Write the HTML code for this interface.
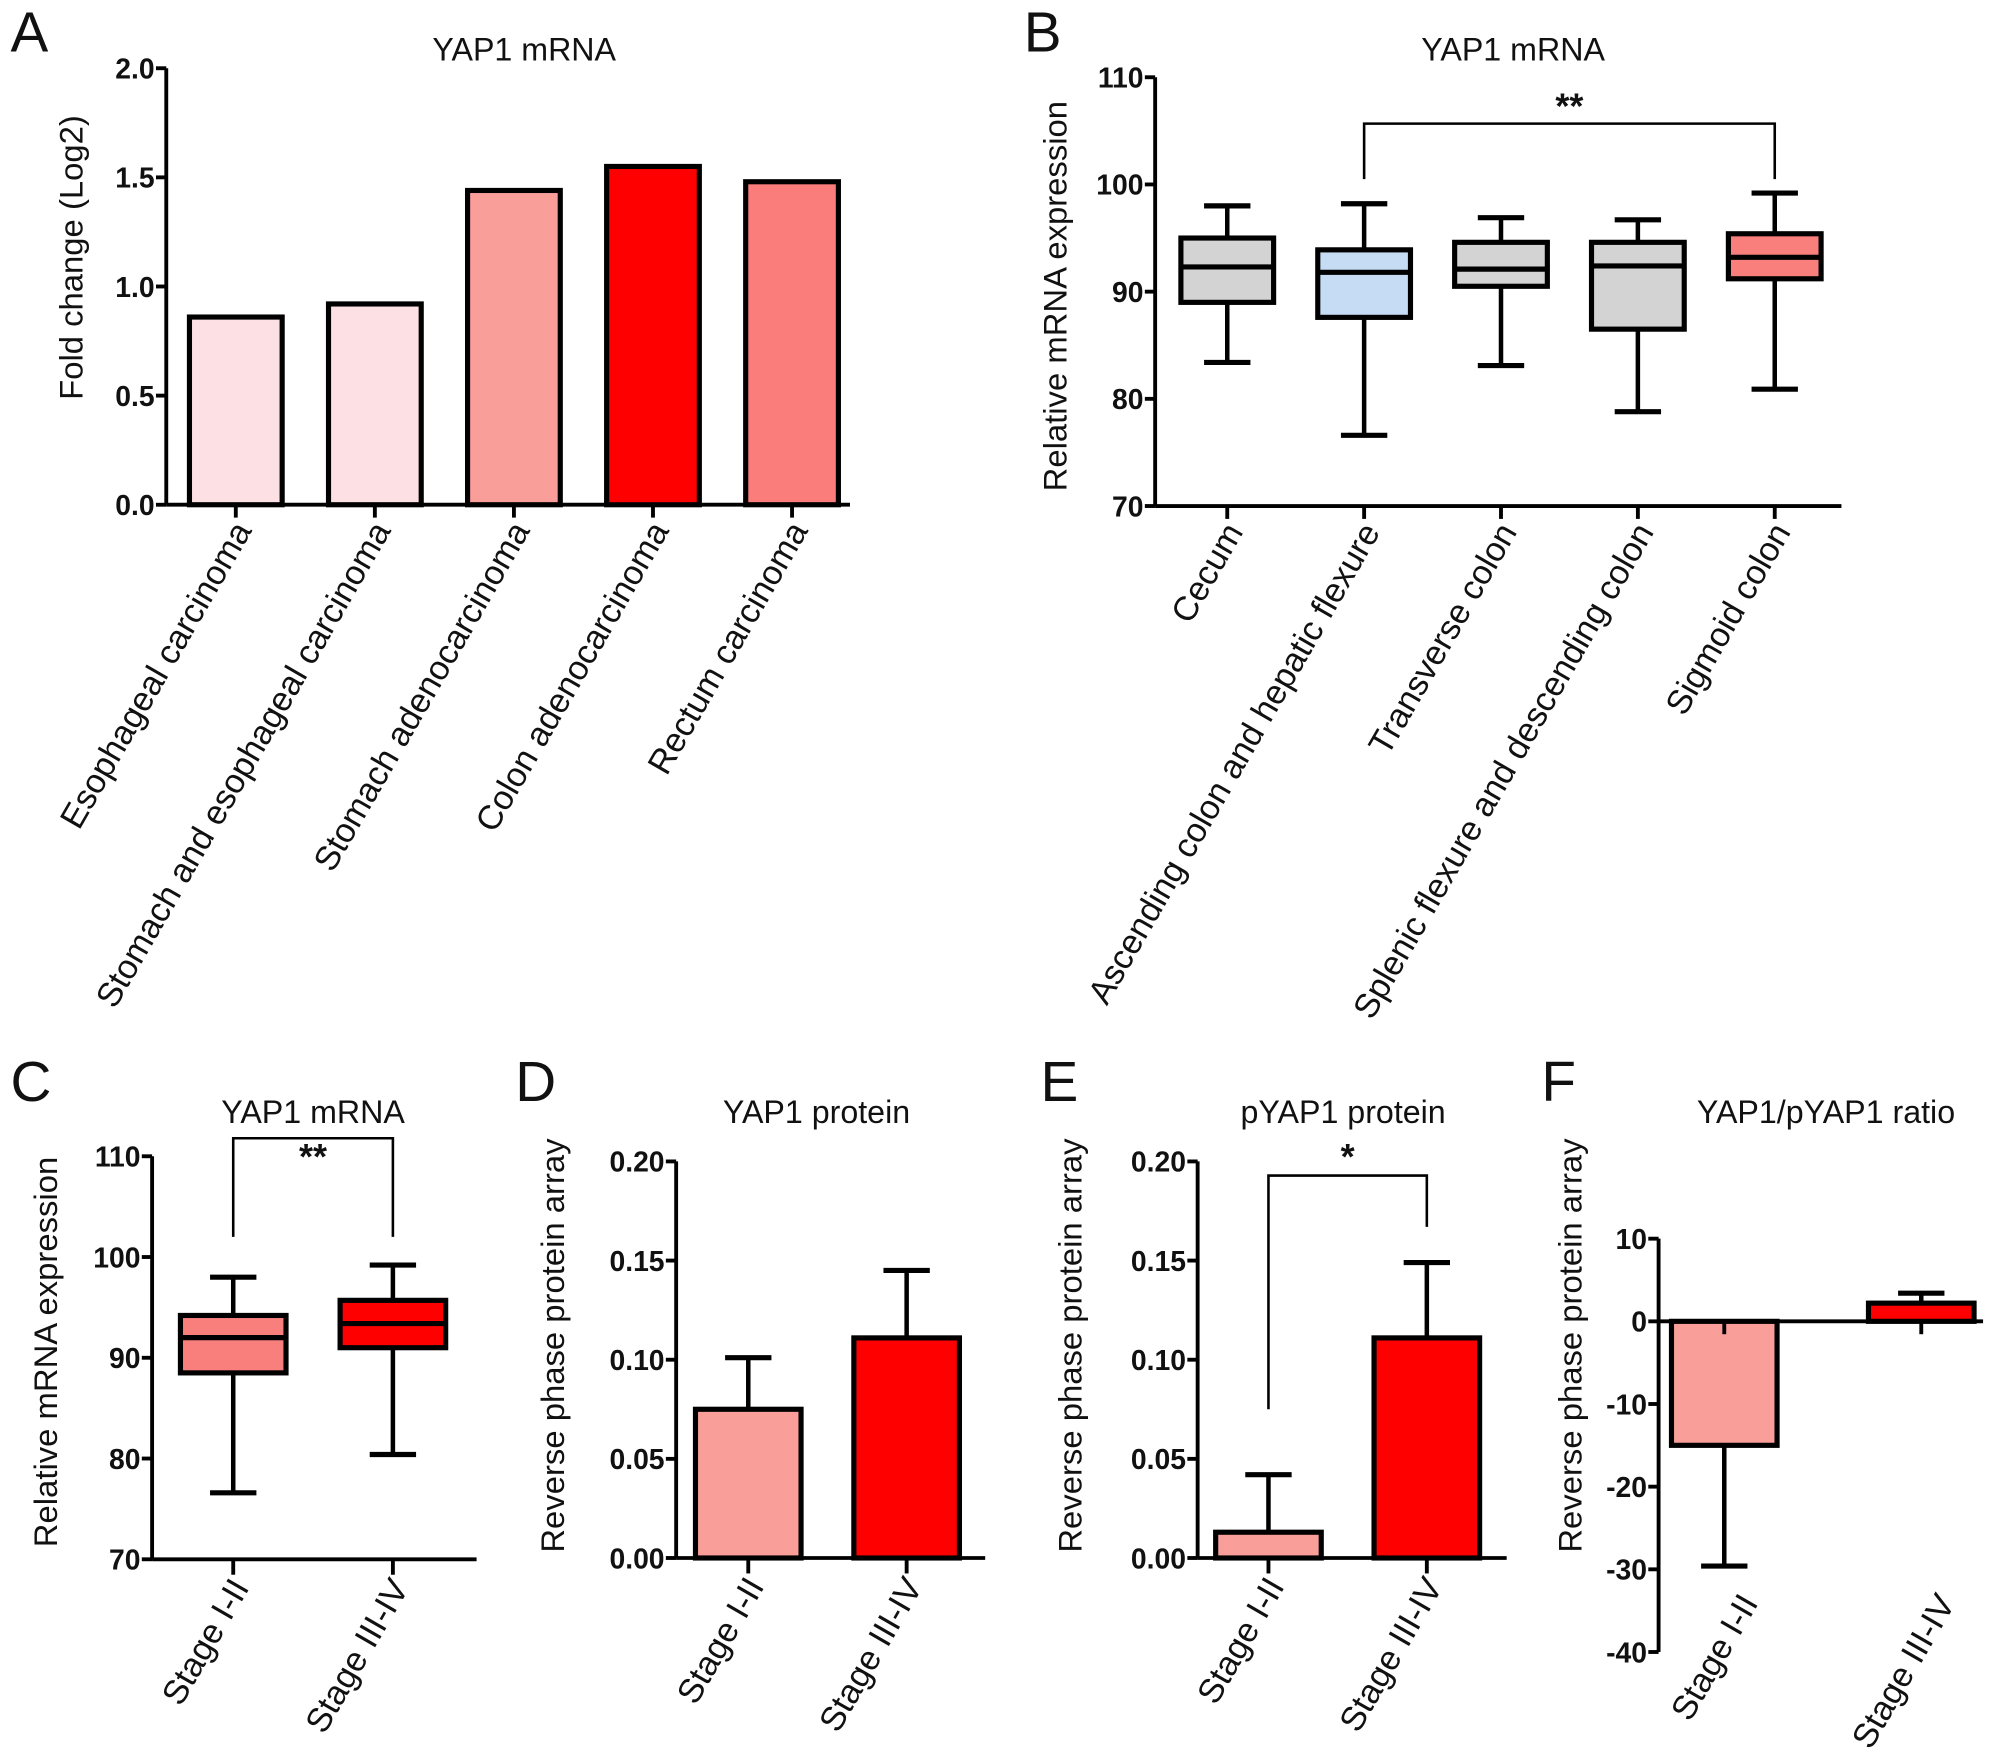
<!DOCTYPE html>
<html><head><meta charset="utf-8"><style>
html,body{margin:0;padding:0;background:#fff;}
svg{display:block;font-family:"Liberation Sans",sans-serif;}
</style></head><body>
<svg id="fig" width="2009" height="1755" viewBox="0 0 1560 1363" xmlns="http://www.w3.org/2000/svg"></svg>
<script>
// ---- Panel A data ----
const aCats = ["Esophageal carcinoma","Stomach and esophageal carcinoma","Stomach adenocarcinoma","Colon adenocarcinoma","Rectum carcinoma"];
const aVals = [0.86,0.92,1.44,1.55,1.48];
const aColors = ["#fde0e4","#fde0e4","#fa9e9a","#ff0000","#fb7d7b"];
const aTicks = ["0.0","0.5","1.0","1.5","2.0"];
// ---- Panel B data ----
const bCats = ["Cecum","Ascending colon and hepatic flexure","Transverse colon","Splenic flexure and descending colon","Sigmoid colon"];
const bMin = [83.4,76.6,83.1,78.8,80.9];
const bQ1 = [89,87.6,90.5,86.5,91.2];
const bMed = [92.3,91.8,92.1,92.4,93.2];
const bQ3 = [95,93.9,94.6,94.6,95.4];
const bMax = [98,98.2,96.9,96.7,99.2];
const bColors = ["#d3d3d3","#c6dcf5","#d3d3d3","#d3d3d3","#f87f7c"];
const bTicks = ["70","80","90","100","110"];
// ---- Panel C data ----
const cCats = ["Stage I-II","Stage III-IV"];
const cMin = [76.6,80.4];
const cQ1 = [88.5,91];
const cMed = [92,93.4];
const cQ3 = [94.2,95.7];
const cMax = [98,99.2];
const cColors = ["#f87f7c","#ff0000"];
// ---- Panel D data ----
const dVals = [0.075,0.111];
const dErr = [0.101,0.145];
// ---- Panel E data ----
const eVals = [0.013,0.111];
const eErr = [0.042,0.149];
const deTicks = ["0.00","0.05","0.10","0.15","0.20"];
const deColors = ["#fa9e9a","#ff0000"];
// ---- Panel F data ----
const fVals = [-15,2.2];
const fErr = [-29.6,3.4];
const fTicks = ["-40","-30","-20","-10","0","10"];

const NS="http://www.w3.org/2000/svg";
const svg=document.getElementById('fig');
function el(tag,attrs,parent){const e=document.createElementNS(NS,tag);for(const k in attrs)e.setAttribute(k,attrs[k]);(parent||svg).appendChild(e);return e;}
function txt(s,x,y,size,opts,parent){opts=opts||{};const t=el('text',{x:x,y:y,'font-size':size,fill:'#111','text-anchor':opts.anchor||'middle'},parent);if(opts.bold)t.setAttribute('font-weight','bold');if(opts.rot!==undefined)t.setAttribute('transform','rotate('+opts.rot+' '+x+' '+y+')');t.textContent=s;return t;}
function line(x1,y1,x2,y2,w,parent){return el('line',{x1:x1,y1:y1,x2:x2,y2:y2,stroke:'#000','stroke-width':w||3},parent);}

function panel(name){const g=el('g',{});return g;}

function yAxis(g,x,yTop,yBot,xEnd,ticks,vmin,vmax,xAxisY){
  const sc=v=>yBot-(v-vmin)/(vmax-vmin)*(yBot-yTop);
  const ax=line(x,yTop,x,yBot,3,g);
  
  ticks.forEach(t=>{const v=parseFloat(t);const y=sc(v);line(x-8,y,x,y,3,g);
    const l=txt(t,x-9,y+8,22,{anchor:'end',bold:true},g);
    
    });
  const yy=xAxisY===undefined?yBot:sc(xAxisY);
  const xa=line(x,yy,xEnd,yy,3,g);
  
  return sc;
}
function catLabels(g,xs,cats,yAx,tickBelow){
  xs.forEach((x,i)=>{line(x,yAx,x,yAx+tickBelow,3,g);
    const t=txt(cats[i],x+13,yAx+tickBelow+10,26.5,{anchor:'end',rot:-60},g);
    
    });
}
function titleAndLabel(g,letter,lx,ly,title,tx,ty,ylab,ylx,yly){
  const L=txt(letter,lx,ly,44,{anchor:'start'},g);
  
  const T=txt(title,tx,ty,25,{},g);
  
  const Y=txt(ylab,ylx,yly,25.5,{rot:-90},g);
  
}
function box(g,sc,cx,w,mn,q1,md,q3,mx,color){
  const bg=el('g',{},g);
  
  
  line(cx,sc(mx),cx,sc(q3),3.5,bg);line(cx,sc(q1),cx,sc(mn),3.5,bg);
  line(cx-18,sc(mx),cx+18,sc(mx),4,bg);line(cx-18,sc(mn),cx+18,sc(mn),4,bg);
  el('rect',{x:cx-w/2,y:sc(q3),width:w,height:sc(q1)-sc(q3),fill:color,stroke:'#000','stroke-width':4},bg);
  line(cx-w/2,sc(md),cx+w/2,sc(md),4,bg);
}
function bar(g,sc,cx,w,v,err,color){
  const bg=el('g',{},g);
  
  
  const y0=sc(0),y1=sc(v);
  line(cx,y1,cx,sc(err),3.5,bg);line(cx-18,sc(err),cx+18,sc(err),4,bg);
  el('rect',{x:cx-w/2,y:Math.min(y0,y1),width:w,height:Math.abs(y1-y0),fill:color,stroke:'#000','stroke-width':4},bg);
}
function bracket(g,x1,x2,y,y1end,y2end,star,sy){
  const bg=el('g',{},g);
  
  
  el('polyline',{points:x1+','+y1end+' '+x1+','+y+' '+x2+','+y+' '+x2+','+y2end,fill:'none',stroke:'#000','stroke-width':2},bg);
  txt(star,(x1+x2)/2,sy,28,{bold:true},bg);
}

// Panel A
(function(){const g=panel('panel-a-bar-chart');
  titleAndLabel(g,'A',8,40,'YAP1 mRNA',407,47,'Fold change (Log2)',64,200);
  const sc=yAxis(g,129,53,392,660,aTicks,0,2);
  const xs=aCats.map((c,i)=>183+i*108);
  aVals.forEach((v,i)=>{const bg=el('g',{},g);
    
    
    el('rect',{x:xs[i]-36,y:sc(v),width:72,height:sc(0)-sc(v),fill:aColors[i],stroke:'#000','stroke-width':4},bg);});
  catLabels(g,xs,aCats,392,10);
})();
// Panel B
(function(){const g=panel('panel-b-box-plot');
  titleAndLabel(g,'B',795,40,'YAP1 mRNA',1175,47,'Relative mRNA expression',828,230);
  const sc=yAxis(g,897,60,393,1430,bTicks,70,110);
  const xs=bCats.map((c,i)=>953+i*106.3);
  bCats.forEach((c,i)=>box(g,sc,xs[i],72,bMin[i],bQ1[i],bMed[i],bQ3[i],bMax[i],bColors[i]));
  bracket(g,xs[1],xs[4],96,sc(100.5),sc(100.5),'**',92);
  catLabels(g,xs,bCats,393,10);
})();
// Panel C
(function(){const g=panel('panel-c-box-plot');
  titleAndLabel(g,'C',8,855,'YAP1 mRNA',243,872,'Relative mRNA expression',44,1050);
  const sc=yAxis(g,118,898,1211,370,bTicks,70,110);
  const xs=[181,305];
  cCats.forEach((c,i)=>box(g,sc,xs[i],82,cMin[i],cQ1[i],cMed[i],cQ3[i],cMax[i],cColors[i]));
  bracket(g,xs[0],xs[1],884,sc(102),sc(102),'**',908);
  catLabels(g,xs,cCats,1211,12);
})();
// Panel D
(function(){const g=panel('panel-d-bar-chart');
  titleAndLabel(g,'D',400,855,'YAP1 protein',634,872,'Reverse phase protein array',438,1045);
  const sc=yAxis(g,525,902,1210,765,deTicks,0,0.2);
  const xs=[581,704];
  dVals.forEach((v,i)=>bar(g,sc,xs[i],82,v,dErr[i],deColors[i]));
  catLabels(g,xs,cCats,1210,12);
})();
// Panel E
(function(){const g=panel('panel-e-bar-chart');
  titleAndLabel(g,'E',808,855,'pYAP1 protein',1043,872,'Reverse phase protein array',840,1045);
  const sc=yAxis(g,930,902,1210,1170,deTicks,0,0.2);
  const xs=[985,1108];
  eVals.forEach((v,i)=>bar(g,sc,xs[i],82,v,eErr[i],deColors[i]));
  bracket(g,xs[0],xs[1],913,sc(0.075),sc(0.167),'*',908);
  catLabels(g,xs,cCats,1210,12);
})();
// Panel F
(function(){const g=panel('panel-f-bar-chart');
  titleAndLabel(g,'F',1197,855,'YAP1/pYAP1 ratio',1418,872,'Reverse phase protein array',1228,1045);
  const sc=yAxis(g,1288,962,1283,1540,fTicks,-40,10,0);
  const xs=[1339,1492];
  fVals.forEach((v,i)=>bar(g,sc,xs[i],82,v,fErr[i],deColors[i]));
  xs.forEach(x=>line(x,sc(0),x,sc(0)+10,3,g));
  xs.forEach((x,i)=>{const t=txt(cCats[i],x+27,1245,26.5,{anchor:'end',rot:-60},g);
    
    });
})();
</script>
</body></html>
